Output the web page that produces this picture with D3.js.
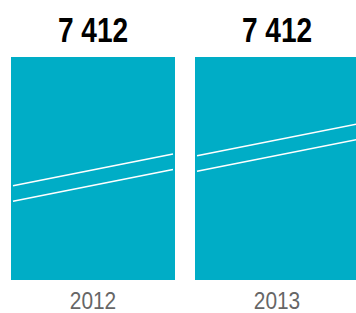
<!DOCTYPE html>
<html>
<head>
<meta charset="utf-8">
<script src="https://cdn.jsdelivr.net/npm/d3@7"></script>
<style>
  html, body { margin: 0; padding: 0; background: #fff; }
  svg { display: block; }
</style>
</head>
<body>
<div id="chart"></div>
<script>
const years = ["2012", "2013"];
const values = [7412, 7412];
const labels = ["7 412", "7 412"];

const width = 356, height = 313;
const fontFamily = "'Liberation Sans Narrow', 'Liberation Sans', Arial, sans-serif";

const svg = d3.select("#chart")
  .append("svg")
  .attr("width", width)
  .attr("height", height);

const x = d3.scaleBand()
  .domain(years)
  .range([11, 359])
  .paddingInner(20 / 184)
  .paddingOuter(0);

const y = d3.scaleLinear()
  .domain([0, d3.max(values)])
  .range([280, 57]);

const data = years.map((yr, i) => ({ year: yr, value: values[i], label: labels[i], i }));

// Bars
svg.selectAll("rect.bar")
  .data(data)
  .join("rect")
  .attr("class", "bar")
  .attr("x", d => x(d.year))
  .attr("y", d => y(d.value))
  .attr("width", x.bandwidth())
  .attr("height", d => y(0) - y(d.value))
  .attr("fill", "#00adc6");

// Axis-break marks (two parallel slanted white lines per bar)
const breakStart = [0.577, 0.443]; // fraction of bar height at left edge
const rise = 0.142;                // fraction climbed across the bar
const gap = 15.5;
data.forEach(d => {
  const x0 = x(d.year) + 2, x1 = x(d.year) + x.bandwidth() - 2;
  const top = y(d.value), h = y(0) - y(d.value);
  const yl = top + h * breakStart[d.i];
  const yr = yl - h * rise;
  [0, gap].forEach(off => {
    svg.append("line")
      .attr("x1", x0).attr("y1", yl + off)
      .attr("x2", x1).attr("y2", yr + off)
      .attr("stroke", "#fff")
      .attr("stroke-width", 1.5);
  });
});

// Value labels (condensed look via horizontal scale)
svg.selectAll("text.value")
  .data(data)
  .join("text")
  .attr("class", "value")
  .attr("transform", d => `translate(${x(d.year) + x.bandwidth() / 2},41.7) scale(0.78,1)`)
  .attr("text-anchor", "middle")
  .style("font-family", fontFamily)
  .style("font-weight", "bold")
  .style("font-size", "36px")
  .attr("fill", "#000")
  .text(d => d.label);

// Year labels
svg.selectAll("text.year")
  .data(data)
  .join("text")
  .attr("class", "year")
  .attr("transform", d => `translate(${x(d.year) + x.bandwidth() / 2},309) scale(0.87,1)`)
  .attr("text-anchor", "middle")
  .style("font-family", fontFamily)
  .style("font-size", "24px")
  .attr("fill", "#666")
  .text(d => d.year);
</script>
</body>
</html>
